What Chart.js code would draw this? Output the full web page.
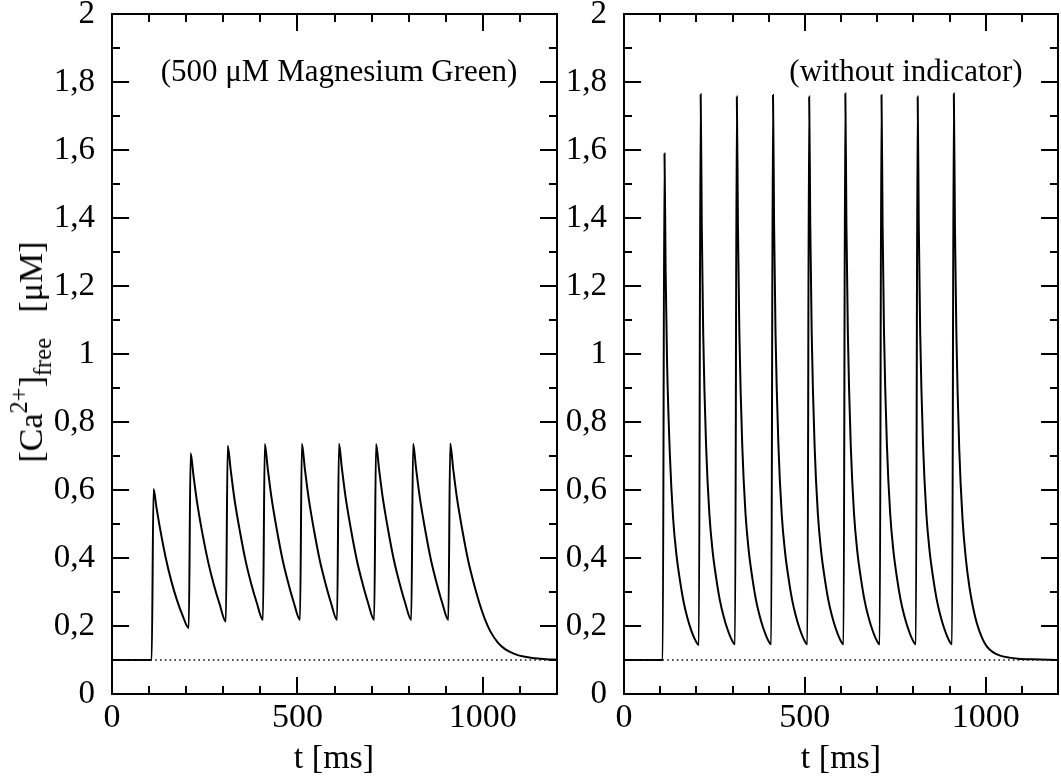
<!DOCTYPE html>
<html>
<head>
<meta charset="utf-8">
<script src="https://cdn.jsdelivr.net/npm/chart.js@4.4.1/dist/chart.umd.min.js"></script>
<style>
  body { margin: 0; background: #fff; width: 1061px; height: 779px; overflow: hidden; position: relative; font-family: "Liberation Serif", "DejaVu Serif", serif; }
  canvas { position: absolute; top: 0; }
  #leftChart { left: 0; }
  #rightChart { left: 540px; }
  .note { position: absolute; font-size: 31px; white-space: nowrap; transform: translate(-50%, -50%); }
  .xtitle { position: absolute; font-size: 34px; white-space: nowrap; transform: translate(-50%, -50%); top: 757px; }
  #ytitle { position: absolute; left: 31px; top: 352px; font-size: 34px; white-space: nowrap; transform: translate(-50%, -50%) rotate(-90deg); }
  #ytitle sup { font-size: 0.72em; vertical-align: 0.6em; line-height: 0; }
  #ytitle sub { font-size: 0.72em; vertical-align: -0.35em; line-height: 0; }
</style>
</head>
<body>
<canvas id="leftChart" width="590" height="779"></canvas>
<canvas id="rightChart" width="521" height="779"></canvas>
<div class="note" style="left:339px; top:71px;">(500 μM Magnesium Green)</div>
<div class="note" style="left:906px; top:71px;">(without indicator)</div>
<div class="xtitle" style="left:334px;">t [ms]</div>
<div class="xtitle" style="left:841px;">t [ms]</div>
<div id="ytitle">[Ca<sup>2+</sup>]<sub>free</sub>&nbsp;&nbsp;&nbsp;[μM]</div>
<script>
// time points [ms] and free Ca2+ [uM], one line per stimulus
const leftTimes = [
  0, 107,
  112, 120, 130, 145, 160, 175, 190, 207,
  212, 220, 230, 245, 260, 275, 290, 307,
  312, 320, 330, 345, 360, 375, 390, 407,
  412, 420, 430, 445, 460, 475, 490, 507,
  512, 520, 530, 545, 560, 575, 590, 607,
  612, 620, 630, 645, 660, 675, 690, 707,
  712, 720, 730, 745, 760, 775, 790, 807,
  812, 820, 830, 845, 860, 875, 890, 907,
  912, 920, 930, 945, 960, 975, 990, 1005, 1020, 1040, 1060, 1085, 1110, 1140, 1170, 1200
];
const leftCa = [
  0.1, 0.1,
  0.603, 0.548, 0.484, 0.40, 0.332, 0.277, 0.232, 0.194,
  0.708, 0.64, 0.56, 0.465, 0.385, 0.32, 0.265, 0.213,
  0.730, 0.66, 0.575, 0.478, 0.393, 0.326, 0.27, 0.218,
  0.735, 0.663, 0.578, 0.48, 0.395, 0.328, 0.27, 0.218,
  0.736, 0.663, 0.578, 0.48, 0.395, 0.328, 0.27, 0.218,
  0.736, 0.663, 0.578, 0.48, 0.395, 0.328, 0.27, 0.218,
  0.735, 0.663, 0.578, 0.48, 0.395, 0.328, 0.27, 0.218,
  0.736, 0.663, 0.578, 0.48, 0.395, 0.328, 0.27, 0.218,
  0.737, 0.663, 0.578, 0.48, 0.395, 0.328, 0.27, 0.222, 0.185, 0.152, 0.132, 0.118, 0.11, 0.105, 0.102, 0.101
];

const rightTimes = [
  0, 107,
  112, 115, 119, 127, 136, 145, 155, 165, 175, 185, 195, 207,
  212, 215, 219, 227, 236, 245, 255, 265, 275, 285, 295, 307,
  312, 315, 319, 327, 336, 345, 355, 365, 375, 385, 395, 407,
  412, 415, 419, 427, 436, 445, 455, 465, 475, 485, 495, 507,
  512, 515, 519, 527, 536, 545, 555, 565, 575, 585, 595, 607,
  612, 615, 619, 627, 636, 645, 655, 665, 675, 685, 695, 707,
  712, 715, 719, 727, 736, 745, 755, 765, 775, 785, 795, 807,
  812, 815, 819, 827, 836, 845, 855, 865, 875, 885, 895, 907,
  912, 915, 919, 927, 936, 945, 955, 965, 975, 990, 1003, 1020, 1040, 1065, 1090, 1130, 1200
];
const rightCa = [
  0.1, 0.1,
  1.59, 1.25, 0.98, 0.70, 0.514, 0.41, 0.332, 0.27, 0.225, 0.19, 0.163, 0.144,
  1.764, 1.38, 1.06, 0.73, 0.53, 0.42, 0.34, 0.276, 0.23, 0.194, 0.166, 0.146,
  1.757, 1.38, 1.06, 0.73, 0.53, 0.42, 0.34, 0.276, 0.23, 0.194, 0.166, 0.146,
  1.762, 1.38, 1.06, 0.73, 0.53, 0.42, 0.34, 0.276, 0.23, 0.194, 0.166, 0.146,
  1.757, 1.38, 1.06, 0.73, 0.53, 0.42, 0.34, 0.276, 0.23, 0.194, 0.166, 0.146,
  1.766, 1.38, 1.06, 0.73, 0.53, 0.42, 0.34, 0.276, 0.23, 0.194, 0.166, 0.146,
  1.762, 1.38, 1.06, 0.73, 0.53, 0.42, 0.34, 0.276, 0.23, 0.194, 0.166, 0.146,
  1.757, 1.38, 1.06, 0.73, 0.53, 0.42, 0.34, 0.276, 0.23, 0.194, 0.166, 0.146,
  1.766, 1.38, 1.06, 0.72, 0.515, 0.40, 0.315, 0.255, 0.21, 0.165, 0.14, 0.123, 0.113, 0.107, 0.104, 0.102, 0.1
];

// resting level, drawn dotted
const restTimes = [0, 1200];
const restCa = [0.1, 0.1];

const xTickLabels = [0, 500, 1000];
const xMinorTicks = [100, 200, 300, 400, 600, 700, 800, 900, 1100];
const yTickLabels = [0, 0.2, 0.4, 0.6, 0.8, 1, 1.2, 1.4, 1.6, 1.8, 2];
const yMinorTicks = [0.1, 0.3, 0.5, 0.7, 0.9, 1.1, 1.3, 1.5, 1.7, 1.9];

const FONT = '"Liberation Serif", "DejaVu Serif", serif';

function toPoints(xs, ys) {
  return xs.map((x, i) => ({ x: x, y: ys[i] }));
}

// frame with inward ticks on all four sides
const framePlugin = {
  id: 'frame',
  afterDraw(chart) {
    const ctx = chart.ctx;
    const a = chart.chartArea;
    const xs = chart.scales.x;
    const ys = chart.scales.y;
    ctx.save();
    ctx.strokeStyle = '#000';
    ctx.lineWidth = 2;
    ctx.strokeRect(a.left, a.top, a.right - a.left, a.bottom - a.top);
    ctx.beginPath();
    function xTick(v, len) {
      const px = Math.round(xs.getPixelForValue(v));
      ctx.moveTo(px, a.bottom); ctx.lineTo(px, a.bottom - len);
      ctx.moveTo(px, a.top); ctx.lineTo(px, a.top + len);
    }
    function yTick(v, len) {
      const py = Math.round(ys.getPixelForValue(v));
      ctx.moveTo(a.left, py); ctx.lineTo(a.left + len, py);
      ctx.moveTo(a.right, py); ctx.lineTo(a.right - len, py);
    }
    xTickLabels.forEach(v => xTick(v, 17));
    xMinorTicks.forEach(v => xTick(v, 8));
    yTickLabels.forEach(v => yTick(v, 17));
    yMinorTicks.forEach(v => yTick(v, 8));
    ctx.stroke();
    ctx.restore();
  }
};

function makeChart(id, times, values, yWidth, rightPad) {
  return new Chart(document.getElementById(id), {
    type: 'scatter',
    data: {
      datasets: [{
        data: toPoints(restTimes, restCa),
        showLine: true,
        borderColor: '#111',
        borderWidth: 1.6,
        borderDash: [1.6, 3.2],
        pointRadius: 0
      }, {
        data: toPoints(times, values),
        showLine: true,
        borderColor: '#000',
        borderWidth: 2,
        cubicInterpolationMode: 'monotone',
        pointRadius: 0
      }]
    },
    options: {
      responsive: false,
      animation: false,
      devicePixelRatio: 1,
      layout: { padding: { top: 14, right: rightPad, left: 0, bottom: 0 } },
      plugins: { legend: { display: false }, tooltip: { enabled: false } },
      scales: {
        x: {
          type: 'linear',
          min: 0,
          max: 1200,
          grid: { display: false },
          border: { display: false },
          afterBuildTicks: s => { s.ticks = xTickLabels.map(v => ({ value: v })); },
          afterFit: s => { s.height = 85; s.paddingLeft = 0; s.paddingRight = 0; },
          ticks: {
            color: '#000',
            padding: 2,
            maxRotation: 0,
            font: { family: FONT, size: 34, lineHeight: 0.8 },
            callback: v => String(v)
          }
        },
        y: {
          min: 0,
          max: 2,
          grid: { display: false },
          border: { display: false },
          afterBuildTicks: s => { s.ticks = yTickLabels.map(v => ({ value: v })); },
          afterFit: s => { s.width = yWidth; s.paddingTop = 0; s.paddingBottom = 0; },
          ticks: {
            color: '#000',
            padding: 9,
            font: { family: FONT, size: 33, lineHeight: 0.8 },
            callback: v => String(Math.round(v * 10) / 10).replace('.', ',')
          }
        }
      }
    },
    plugins: [framePlugin]
  });
}

makeChart('leftChart', leftTimes, leftCa, 112, 33);
makeChart('rightChart', rightTimes, rightCa, 84, 3);
</script>
</body>
</html>
